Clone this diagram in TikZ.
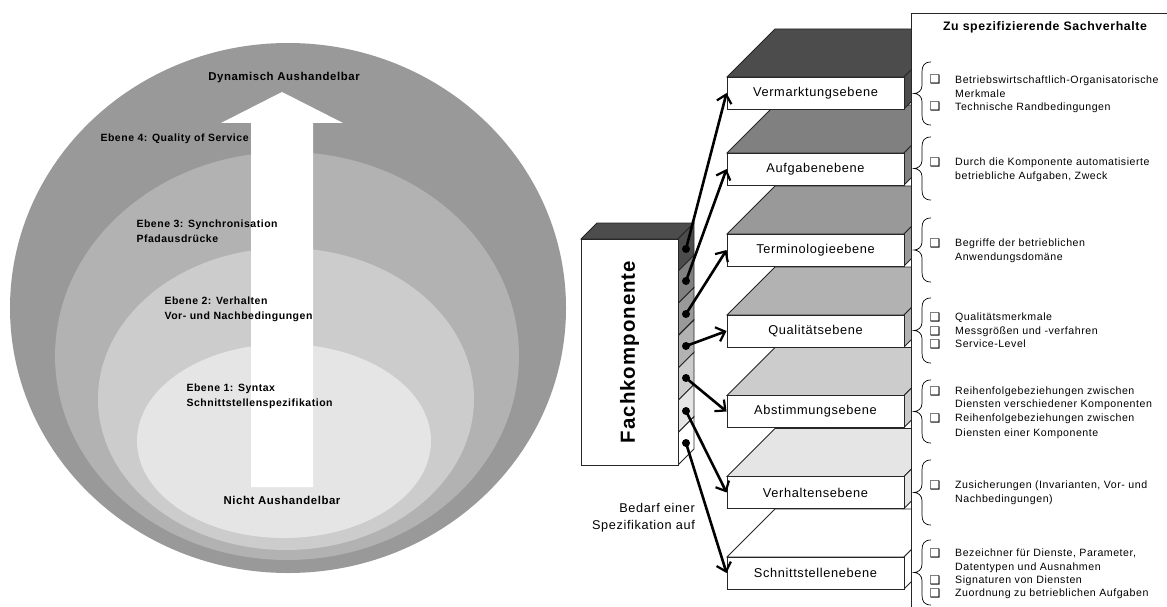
\documentclass[tikz,border=0pt]{standalone}
\usepackage{fontspec}
\setmainfont{Liberation Sans}[LetterSpace=5]
\newfontfamily\symfont{DejaVu Sans}
\usetikzlibrary{arrows.meta}

\definecolor{g1}{gray}{0.30}
\definecolor{g2}{gray}{0.50}
\definecolor{g3}{gray}{0.60}
\definecolor{g4}{gray}{0.70}
\definecolor{g5}{gray}{0.80}
\definecolor{g6}{gray}{0.90}
\definecolor{g7}{gray}{1.00}
\definecolor{ringA}{gray}{0.60}
\definecolor{ringB}{gray}{0.70}
\definecolor{ringC}{gray}{0.80}
\definecolor{ringD}{gray}{0.90}
\definecolor{edgec}{gray}{0.15}

\begin{document}
\begin{tikzpicture}[x=1pt,y=-1pt,
  edge/.style={draw=edgec, line width=0.9pt},
  lay/.style={edge, fill=white, minimum width=177pt, minimum height=32pt,
    inner sep=0pt, font=\fontsize{12.8}{14}\selectfont},
  ebene/.style={font=\fontsize{10.5}{14.8}\selectfont\bfseries, align=left, anchor=west},
  pole/.style={font=\fontsize{11.4}{13}\selectfont\bfseries},
  itemtext/.style={font=\fontsize{10.6}{12}\selectfont, anchor=base west, inner sep=0pt},
  bul/.style={font=\symfont\fontsize{12}{12}\selectfont, anchor=base, inner sep=0pt},
  lnk/.style={line width=2.6pt, -{Straight Barb[length=8pt,width=15pt,line width=2.2pt]}},
  dotn/.style={circle, fill=black, inner sep=0pt, minimum size=8pt},
  brc/.style={draw=black, line width=0.7pt}
]
\useasboundingbox (0,0) rectangle (1167,607);

% ---------- nested negotiation levels ----------
\fill[ringA] (288,308) ellipse [x radius=278, y radius=265];
\fill[ringB] (287,356) ellipse [x radius=232, y radius=204];
\fill[ringC] (286,399) ellipse [x radius=188, y radius=151];
\fill[ringD] (284,441) ellipse [x radius=147, y radius=97];

% broad white arrow
\fill[white] (251,487) -- (251,123) -- (221,123) -- (282,92) -- (343,123)
  -- (313,123) -- (313,487) -- cycle;

\node[pole] (top) at (284,78) {Dynamisch Aushandelbar};
\node[pole] (bottom) at (282,500) {Nicht Aushandelbar};
\node[ebene] (e4) at (97,139) {Ebene 4: Quality of Service};
\node[ebene] (e3) at (133,231.5) {Ebene 3: Synchronisation\\Pfadausdrücke};
\node[ebene] (e2) at (161,309) {Ebene 2: Verhalten\\Vor- und Nachbedingungen};
\node[ebene] (e1) at (183,396) {Ebene 1: Syntax\\Schnittstellenspezifikation};

% ---------- specification layers (drawn bottom to top) ----------
\foreach \c/\col/\t/\n in {573/g7/Schnittstellenebene/v7,
                           492.5/g6/Verhaltensebene/v6,
                           411.5/g5/Abstimmungsebene/v5,
                           331/g4/Qualitätsebene/v4,
                           250/g3/Terminologieebene/v3,
                           169/g2/Aufgabenebene/v2,
                           93/g1/Vermarktungsebene/v1}{
  \filldraw[edge, fill=\col] (727,{\c-16}) -- (904,{\c-16}) -- (952,{\c-64})
    -- (775,{\c-64}) -- cycle;
  \filldraw[edge, fill=\col] (904,{\c-16}) -- (952,{\c-64}) -- (952,{\c-32})
    -- (904,{\c+16}) -- cycle;
  \node[lay] (\n) at (815.5,\c) {\t};
}

% ---------- component block ----------
\filldraw[edge, fill=g1] (581,239) -- (678,239) -- (694,223) -- (597,223) -- cycle;
\foreach \k/\col in {0/g1,1/g2,2/g3,3/g4,4/g5,5/g6,6/g7}{
  \filldraw[edge, fill=\col] (678,{239+32.29*\k}) -- (694,{223+32.29*\k})
    -- (694,{223+32.29*(\k+1)}) -- (678,{239+32.29*(\k+1)}) -- cycle;
}
\node[edge, fill=white, rotate=90, minimum width=226pt, minimum height=97pt,
  inner sep=0pt, font=\fontsize{20.4}{22}\selectfont\bfseries] (fk) at (629.5,352)
  {Fachkomponente};

\node[font=\fontsize{12.7}{17}\selectfont, align=right, anchor=east, inner sep=0pt]
  (bedarf) at (695,518) {Bedarf einer\\Spezifikation auf};

\foreach \k/\y in {1/249,2/281,3/314,4/346,5/378,6/411,7/443}{
  \node[dotn] (d\k) at (686,\y) {};
}
\foreach \k in {1,...,7}{
  \draw[lnk] (d\k.center) -- (v\k.west);
}

% ---------- column of specified facts ----------
\fill[white] (911.5,13) rectangle (1170,610);
\draw[edge] (1170,13) -- (911.5,13) -- (911.5,610);
\node[font=\fontsize{12.3}{13}\selectfont\bfseries] (head) at (1045,27)
  {Zu spezifizierende Sachverhalte};

\foreach \a/\b in {62/125,137/200,218/282,298/363,380/443,460/525,540/605}{
  \draw[brc] (931,\a) .. controls (924,\a) and (922,{\a+4}) .. (922,{\a+10})
    -- (922,{(\a+\b)/2-8}) .. controls (922,{(\a+\b)/2-3}) and (918,{(\a+\b)/2}) .. (914,{(\a+\b)/2})
    .. controls (918,{(\a+\b)/2}) and (922,{(\a+\b)/2+3}) .. (922,{(\a+\b)/2+8})
    -- (922,{\b-10}) .. controls (922,{\b-4}) and (924,\b) .. (931,\b);
}

% bulleted lines: y of text centre, bullet flag, text
\foreach \y/\f/\t in {80/1/Betriebswirtschaftlich-Organisatorische,
                      94/0/Merkmale,
                      107/1/Technische Randbedingungen,
                      162/1/Durch die Komponente automatisierte,
                      176/0/{betriebliche Aufgaben, Zweck},
                      243/1/Begriffe der betrieblichen,
                      257/0/Anwendungsdomäne,
                      317/1/Qualitätsmerkmale,
                      331/1/Messgrößen und -verfahren,
                      344/1/Service-Level,
                      391/1/Reihenfolgebeziehungen zwischen,
                      404/0/Diensten verschiedener Komponenten,
                      418/1/Reihenfolgebeziehungen zwischen,
                      433/0/Diensten einer Komponente,
                      485/1/{Zusicherungen (Invarianten, Vor- und},
                      499/0/Nachbedingungen),
                      553/1/{Bezeichner für Dienste, Parameter,},
                      567/0/Datentypen und Ausnahmen,
                      580/1/Signaturen von Diensten,
                      593/1/Zuordnung zu betrieblichen Aufgaben}{
  \node[itemtext] at (955,{\y+3.8}) {\t};
  \ifnum\f=1
    \node[bul] at (935,{\y+4}) {❑};
  \fi
}
\end{tikzpicture}
\end{document}
